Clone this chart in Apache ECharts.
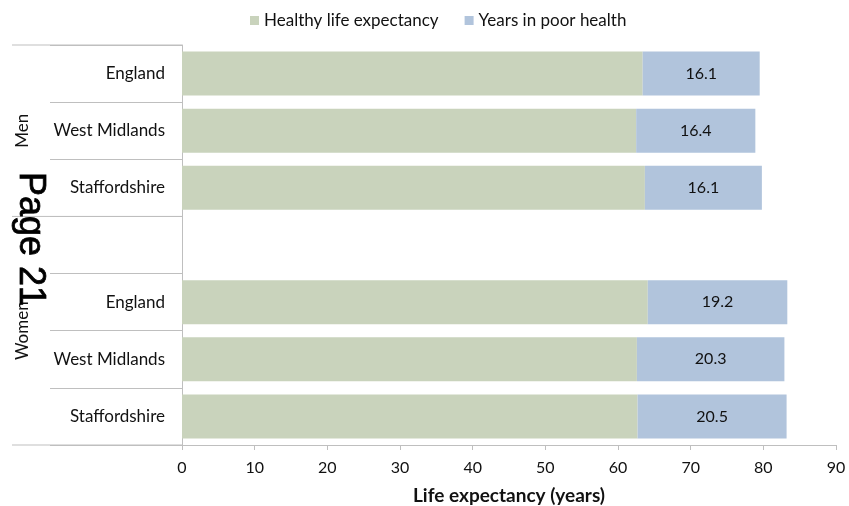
<!DOCTYPE html>
<html>
<head>
<meta charset="utf-8">
<script src="https://cdn.jsdelivr.net/npm/echarts@6/dist/echarts.min.js"></script>
<style>
  html, body { margin: 0; padding: 0; background: #fff; }
  #chart { width: 849px; height: 506px; }
</style>
</head>
<body>
<div id="chart"></div>
<script>
// Rows, top to bottom: men, a spacer row, then women
const rowKeys = ['Men|England', 'Men|West Midlands', 'Men|Staffordshire', 'gap|',
                 'Women|England', 'Women|West Midlands', 'Women|Staffordshire'];
const groups = [
  { name: 'Men', first: 0, last: 2 },
  { name: 'Women', first: 3, last: 6 }
];
const seriesNames = ['Healthy life expectancy', 'Years in poor health'];
const healthyYears = [63.4, 62.5, 63.7, null, 64.1, 62.6, 62.7];
const poorHealthYears = [16.1, 16.4, 16.1, null, 19.2, 20.3, 20.5];
const xTicks = { min: 0, max: 90, step: 10 };
const pageMark = 'Page 21';

const FONT = 'Lato, "Open Sans", sans-serif';
const LINE = '#bfbfbf';

const chart = echarts.init(document.getElementById('chart'), null, { renderer: 'canvas' });

chart.setOption({
  animation: false,
  backgroundColor: '#ffffff',
  textStyle: { fontFamily: FONT },
  legend: {
    top: 7,
    left: 245,
    itemWidth: 9,
    itemHeight: 9,
    itemGap: 26,
    icon: 'rect',
    textStyle: { fontFamily: FONT, fontSize: 17, color: '#111' },
    data: seriesNames
  },
  grid: {
    left: 182, right: 13, top: 45, bottom: 61,
    containLabel: false,
    outerBoundsMode: 'none'
  },
  xAxis: {
    type: 'value',
    min: xTicks.min,
    max: xTicks.max,
    interval: xTicks.step,
    axisLine: { show: true, lineStyle: { color: LINE } },
    axisTick: { show: true, length: 5, lineStyle: { color: LINE } },
    splitLine: { show: false },
    axisLabel: { fontFamily: FONT, fontSize: 16, color: '#111', margin: 15 },
    name: 'Life expectancy (years)',
    nameLocation: 'middle',
    nameGap: 41,
    nameTextStyle: { fontFamily: FONT, fontSize: 19, fontWeight: 'bold', color: '#111' }
  },
  yAxis: {
    type: 'category',
    inverse: true,
    data: rowKeys,
    axisLine: { show: true, lineStyle: { color: LINE } },
    axisTick: { show: true, length: 132, lineStyle: { color: LINE } },
    axisLabel: {
      fontFamily: FONT, fontSize: 17, color: '#111', margin: 17,
      formatter: v => v.split('|')[1]
    }
  },
  series: [
    {
      name: seriesNames[0],
      type: 'bar',
      stack: 'life',
      barWidth: 44,
      itemStyle: { color: '#c9d3bc' },
      data: healthyYears
    },
    {
      name: seriesNames[1],
      type: 'bar',
      stack: 'life',
      barWidth: 44,
      itemStyle: { color: '#b1c4dc' },
      label: {
        show: true,
        position: 'inside',
        fontFamily: FONT,
        fontSize: 16,
        color: '#111',
        formatter: p => p.value == null ? '' : Number(p.value).toFixed(1)
      },
      data: poorHealthYears
    }
  ]
});

// Group labels and the long separators in the label column, placed from the category axis
function drawGroups() {
  const c0 = chart.convertToPixel({ yAxisIndex: 0 }, rowKeys[0]);
  const c1 = chart.convertToPixel({ yAxisIndex: 0 }, rowKeys[1]);
  const band = c1 - c0;
  const edge = i => c0 - band / 2 + i * band;
  const axisX = chart.convertToPixel({ xAxisIndex: 0 }, xTicks.min);
  const elements = [];
  const boundaries = [0];
  groups.forEach(g => boundaries.push(g.last + 1));
  boundaries.forEach(i => {
    elements.push({
      type: 'line',
      shape: { x1: 12, y1: edge(i), x2: axisX, y2: edge(i) },
      style: { stroke: LINE, lineWidth: 1 },
      z: 5
    });
  });
  groups.forEach(g => {
    const mid = (edge(g.first) + edge(g.last + 1)) / 2;
    elements.push({
      type: 'text',
      x: 23, y: mid,
      rotation: Math.PI / 2,
      style: {
        text: g.name, fontFamily: FONT, fontSize: 17, fill: '#111',
        align: 'center', verticalAlign: 'middle'
      },
      z: 6
    });
  });
  elements.push({
    type: 'text',
    x: 30, y: 239,
    rotation: -Math.PI / 2,
    style: {
      text: pageMark, fontFamily: '"Liberation Sans", Arial, sans-serif',
      fontSize: 36, fill: '#000', align: 'center', verticalAlign: 'middle',
      stroke: '#000', lineWidth: 0.8
    },
    z: 10
  });
  chart.setOption({ graphic: { elements } });
}
drawGroups();
</script>
</body>
</html>
